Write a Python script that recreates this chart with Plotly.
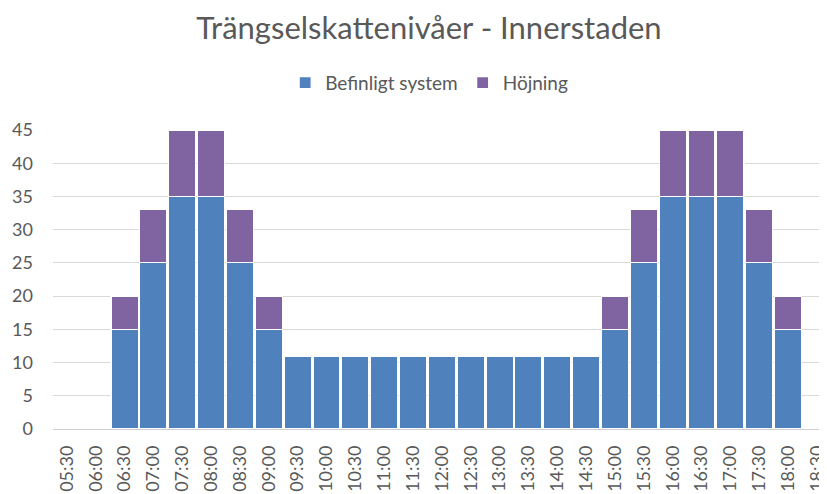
import plotly.graph_objects as go

times = ["05:30", "06:00", "06:30", "07:00", "07:30", "08:00", "08:30", "09:00",
         "09:30", "10:00", "10:30", "11:00", "11:30", "12:00", "12:30", "13:00",
         "13:30", "14:00", "14:30", "15:00", "15:30", "16:00", "16:30", "17:00",
         "17:30", "18:00", "18:30"]
befintligt = [None, None, 15, 25, 35, 35, 25, 15,
              11, 11, 11, 11, 11, 11, 11, 11,
              11, 11, 11, 15, 25, 35, 35, 35,
              25, 15, None]
hojning = [None, None, 5, 8, 10, 10, 8, 5,
           None, None, None, None, None, None, None, None,
           None, None, None, 5, 8, 10, 10, 10,
           8, 5, None]
y_ticks = [0, 5, 10, 15, 20, 25, 30, 35, 40, 45]

FONT = "Lato"
GRAY = "#595959"

fig = go.Figure()
fig.add_trace(go.Bar(x=times, y=befintligt, name="Befinligt system",
                     marker=dict(color="#4F81BD", line=dict(color="white", width=1.2))))
fig.add_trace(go.Bar(x=times, y=hojning, name="Höjning",
                     marker=dict(color="#8064A2", line=dict(color="white", width=1.2))))

fig.update_layout(
    width=827, height=494,
    barmode="stack", bargap=0.06,
    paper_bgcolor="white", plot_bgcolor="white",
    margin=dict(l=45, r=8, t=122, b=73, autoexpand=False),
    title=dict(text="Trängselskattenivåer - Innerstaden", x=0.509, xanchor="center",
               y=0.96, yanchor="middle",
               font=dict(family=FONT, size=31, color=GRAY)),
    legend=dict(orientation="h", x=0.486, xanchor="center", y=1.158, yanchor="middle",
                font=dict(family=FONT, size=19, color=GRAY), traceorder="normal",
                itemwidth=30),
    font=dict(family=FONT, color=GRAY),
    showlegend=True,
)
fig.update_xaxes(type="category", categoryorder="array", categoryarray=times,
                 range=[-0.48, 26.35], tickangle=-90,
                 tickfont=dict(family=FONT, size=18, color=GRAY),
                 showgrid=False, showline=False, ticks="", ticklabelstandoff=12,
                 automargin=False)
fig.update_yaxes(range=[0, 45], tickvals=y_ticks,
                 tickfont=dict(family=FONT, size=18, color=GRAY),
                 showgrid=True, gridcolor="#D9D9D9", gridwidth=1,
                 zeroline=True, zerolinecolor="#D0D0D0", zerolinewidth=1,
                 showline=False, ticks="", ticklabelstandoff=19, automargin=False)

fig.write_html("out.html")
